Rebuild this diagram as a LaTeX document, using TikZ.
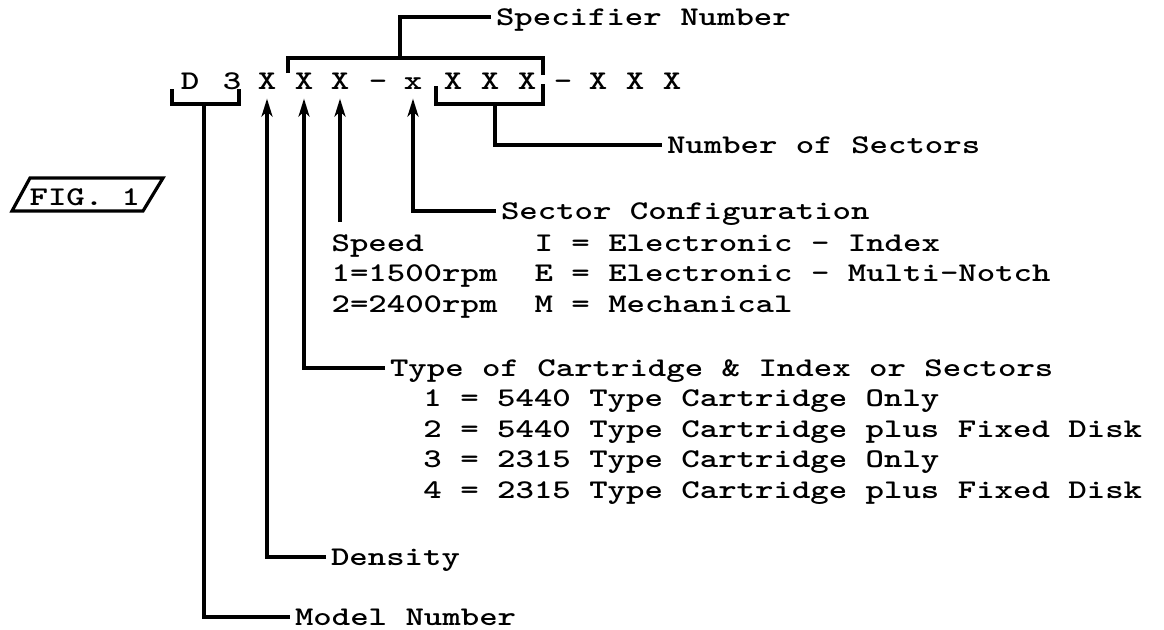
\documentclass[tikz,border=0pt]{standalone}
\usepackage{graphicx}
\usepackage{tikz}
\usetikzlibrary{arrows.meta,calc}

\newcommand{\twfont}{\ttfamily\bfseries\fontsize{13.5}{15.25}\selectfont}
\newcommand{\tw}[1]{\scalebox{1.3}[1]{#1}}
\newcommand{\twlines}[1]{\tw{\begin{tabular}[t]{@{}l@{}}#1\end{tabular}}}

\begin{document}
\begin{tikzpicture}[x=0.5pt,y=-0.5pt,line width=1.6pt,
  ch/.style={font=\twfont,inner sep=0pt,anchor=base,text height=8pt,text depth=0pt},
  lbl/.style={font=\twfont,inner sep=0pt,outer sep=2.5pt,anchor=base west,text height=8pt,text depth=0pt},
  txt/.style={font=\twfont,inner sep=0pt,anchor=base west},
  arr/.style={-{Stealth[length=9pt,width=5.5pt,inset=2.5pt]}}]
  \useasboundingbox (0,0) rectangle (1164,629); % 画像の大きさ

  % 型番の文字列
  \foreach \letter/\x [count=\i] in {D/190,3/232,X/267,X/304,X/340,-/378,x/413,X/453,X/490,X/527,-/563,X/598,X/635,X/672}
    \node[ch] (c\i) at (\x,89) {\tw{\letter}};

  \node[lbl] (spec) at (491,25) {\tw{Specifier Number}}; % 上のラベル
  \node[lbl] (num) at (662,153) {\tw{Number of Sectors}};
  \node[lbl] (sec) at (496,219) {\tw{Sector Configuration}};
  \node[txt] (seclist) at (533,251) {\twlines{I = Electronic - Index\\E = Electronic - Multi-Notch\\M = Mechanical}};
  \node[txt] (spd) at (330,251) {\twlines{Speed\\1=1500rpm\\2=2400rpm}};
  \node[lbl] (typ) at (385,376) {\tw{Type of Cartridge \& Index or Sectors}};
  \node[txt] (typlist) at (385,406.5) {\twlines{~~1 = 5440 Type Cartridge Only\\~~2 = 5440 Type Cartridge plus Fixed Disk\\~~3 = 2315 Type Cartridge Only\\~~4 = 2315 Type Cartridge plus Fixed Disk}};
  \node[lbl] (den) at (326,565) {\tw{Density}};
  \node[lbl] (mod) at (290,625) {\tw{Model Number}};
  \node[txt] (fig) at (28,205) {\tw{FIG. 1}};

  \draw (12,211) -- (30,178) -- (163,178) -- (143,211) -- cycle; % FIG. 1 の枠

  \draw (172,89) |- (239,104) -- (239,89); % D 3 の括弧
  \draw (436,86) |- (543,104) -- (543,84); % X X X の括弧
  \draw (288,73) |- (543,58) -- (543,75); % 上の大きい括弧
  \coordinate (bspec) at (400,58);
  \coordinate (bnum) at (495,104);
  \coordinate (bmod) at (204,104);
  \coordinate (spdtop) at (340,222);

  \draw (bspec) |- (spec.west);
  \draw (bnum) |- (num.west);
  \draw (bmod) |- (mod.west);
  \draw[arr] (den.west) -| ([yshift=-4pt]c3.south); % 矢印
  \draw[arr] (typ.west) -| ([yshift=-4pt]c4.south);
  \draw[arr] (spdtop) -- ([yshift=-4pt]c5.south);
  \draw[arr] (sec.west) -| ([yshift=-4pt]c7.south);
\end{tikzpicture}
\end{document}
